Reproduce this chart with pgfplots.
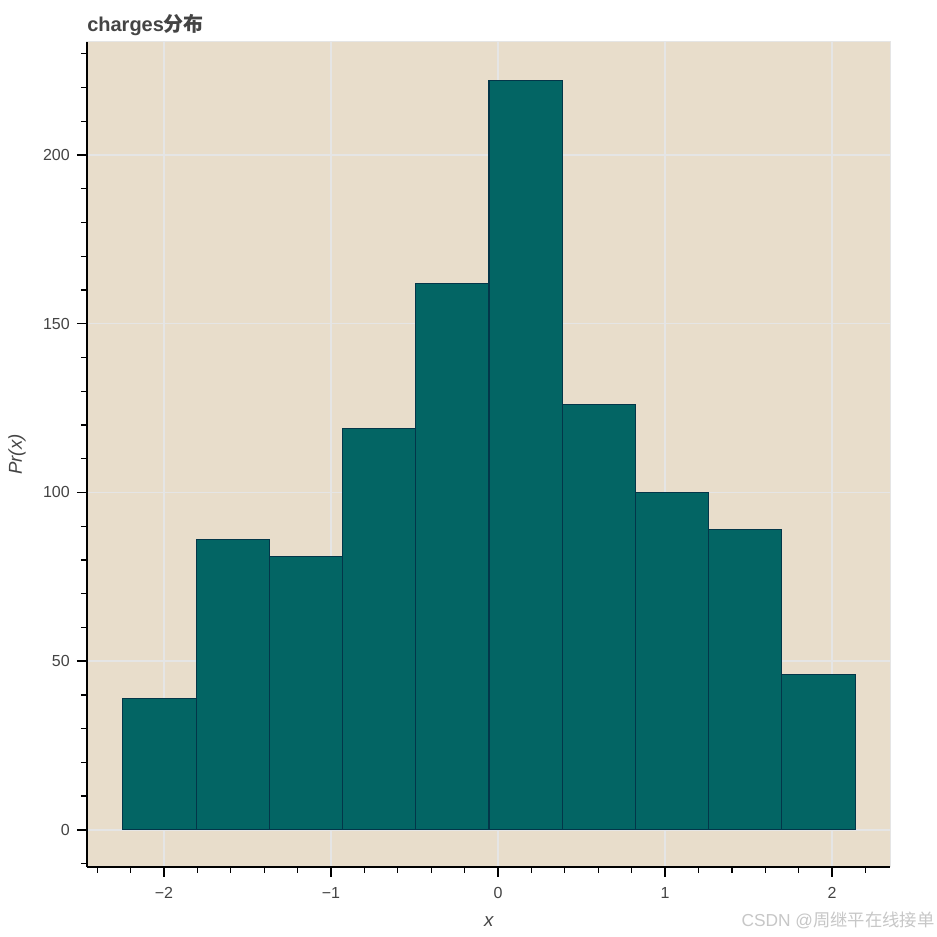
\documentclass[border=0pt]{standalone}
\usepackage{fontspec}
\setmainfont{Liberation Sans}
\newfontfamily\cjk{Noto Sans CJK SC}
\usepackage{pgfplots}
\pgfplotsset{compat=1.18}
\usetikzlibrary{backgrounds}
\definecolor{bg}{HTML}{E8DDCB}
\definecolor{barfill}{HTML}{036564}
\definecolor{barline}{HTML}{033649}
\definecolor{gridc}{HTML}{E5E5E5}
\definecolor{txt}{HTML}{444444}
\begin{document}
\begin{tikzpicture}
\begin{axis}[
  name=ax,
  scale only axis,
  width=602.25pt, height=618.75pt,
  xmin=-2.461, xmax=2.347,
  ymin=-11, ymax=233.5,
  axis lines*=left,
  axis line style={-, line width=1pt, black},
  axis background/.style={fill=bg, draw=gridc, line width=0.75pt},
  tick align=outside,
  major tick length=7.5pt,
  minor tick length=4.5pt,
  every tick/.style={black, line width=1pt},
  xtick={-2,-1,0,1,2},
  xticklabels={−2,−1,0,1,2},
  minor xtick={-2.4,-2.2,-1.8,-1.6,-1.4,-1.2,-0.8,-0.6,-0.4,-0.2,0.2,0.4,0.6,0.8,1.2,1.4,1.6,1.8,2.2},
  ytick={0,50,100,150,200},
  minor ytick={-10,10,20,30,40,60,70,80,90,110,120,130,140,160,170,180,190,210,220,230},
  /pgf/number format/assume math mode=true,
  ticklabel style={font=\fontsize{12}{14}\selectfont, text=txt},
  xticklabel style={anchor=north, inner sep=0pt, yshift=-7.5pt},
  yticklabel style={anchor=east, inner sep=0pt, xshift=-5.25pt},
  grid=major,
  major grid style={gridc, line width=1pt},
  xlabel={\textit{x}},
  ylabel={\textit{Pr(x)}},
  label style={font=\fontsize{14}{16}\selectfont, text=txt},
  xlabel style={at={(axis description cs:0.5006,-0.0667)}, anchor=center},
  ylabel style={at={(axis description cs:-0.0872,0.5)}, anchor=center, rotate=0},
  clip=false,
]
\addplot[ybar interval, fill=barfill, draw=barline, line width=0.85pt] coordinates {
  (-2.246,39) (-1.8076,86) (-1.3692,81) (-0.9308,119) (-0.4924,162)
  (-0.054,222) (0.3844,126) (0.8228,100) (1.2612,89) (1.6996,46) (2.138,46)
};
\end{axis}
\node[anchor=base west, inner sep=0pt, text=txt, font=\fontsize{15}{18}\selectfont\bfseries] at ([yshift=7.9pt]ax.north west) {charges{\cjk 分布}};
\node[anchor=east, inner sep=0pt, text=black!22, font=\fontsize{13}{16}\selectfont] at ([xshift=33.5pt,yshift=-39.75pt]ax.south east) {CSDN @{\cjk 周继平在线接单}};
\begin{scope}[on background layer]
\fill[white] ([xshift=-65.25pt,yshift=-52.5pt]ax.south west) rectangle ([xshift=35.25pt,yshift=31.5pt]ax.north east);
\end{scope}
\end{tikzpicture}
\end{document}
